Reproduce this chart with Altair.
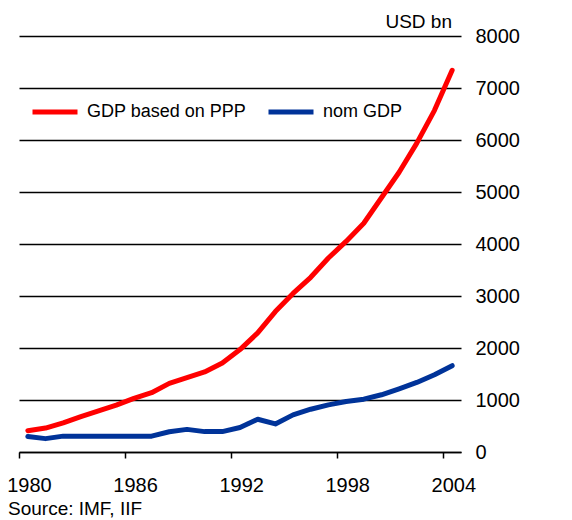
import altair as alt
import pandas as pd

years = list(range(1980, 2005))
ppp = [410, 460, 560, 680, 790, 900, 1030, 1140, 1320, 1430, 1540, 1710, 1970, 2290,
       2700, 3050, 3360, 3730, 4050, 4400, 4890, 5380, 5940, 6570, 7340]
nom = [296, 257, 305, 305, 305, 305, 305, 305, 390, 435, 392, 392, 470, 630,
       540, 714, 823, 907, 971, 1016, 1100, 1215, 1338, 1486, 1659]
series_names = ["GDP based on PPP", "nom GDP"]
series_colors = ["#FF0000", "#003399"]
x_ticks = [1980, 1986, 1992, 1998, 2004]
y_ticks = [0, 1000, 2000, 3000, 4000, 5000, 6000, 7000, 8000]
unit_label = "USD bn"
source_label = "Source: IMF, IIF"

df = pd.DataFrame({
    "year": years * 2,
    "value": ppp + nom,
    "series": [series_names[0]] * len(years) + [series_names[1]] * len(years),
})

FONT = "Liberation Sans"
W, H = 442, 416

base = alt.Chart(df).transform_calculate(xpos="datum.year + 0.5")

lines = base.mark_line(strokeWidth=5, strokeCap="round", strokeJoin="round").encode(
    x=alt.X("xpos:Q",
            scale=alt.Scale(domain=[1980, 2005], nice=False, zero=False),
            axis=alt.Axis(values=x_ticks, format="d", title=None, grid=False,
                          domainColor="black", domainWidth=1.5,
                          tickColor="black", tickWidth=1.5, tickSize=6,
                          labelOffset=10, labelPadding=17, labelFontSize=20,
                          labelColor="black", labelFont=FONT, labelFlush=False)),
    y=alt.Y("value:Q",
            scale=alt.Scale(domain=[0, 8000], nice=False),
            axis=alt.Axis(orient="right", values=y_ticks, format="d", title=None,
                          grid=True, gridColor="black", gridWidth=1.5, domain=False,
                          ticks=False, tickSize=0, labelPadding=14, labelFontSize=20,
                          labelColor="black", labelFont=FONT)),
    color=alt.Color("series:N",
                    scale=alt.Scale(domain=series_names, range=series_colors),
                    legend=alt.Legend(orient="none", legendX=11, legendY=51,
                                      direction="horizontal", title=None,
                                      symbolType="stroke", symbolSize=2025,
                                      symbolStrokeWidth=5, labelFontSize=18,
                                      labelFont=FONT, labelColor="black",
                                      labelOffset=7, columnPadding=11,
                                      labelLimit=0, padding=0)),
    order="year:Q",
)

unit = alt.Chart(pd.DataFrame({"t": [unit_label]})).mark_text(
    align="right", baseline="middle", fontSize=19, font=FONT, color="black"
).encode(text="t:N", x=alt.value(433), y=alt.value(-14))

source = alt.Chart(pd.DataFrame({"t": [source_label]})).mark_text(
    align="left", baseline="middle", fontSize=19, font=FONT, color="black"
).encode(text="t:N", x=alt.value(-11), y=alt.value(H + 57))

chart = alt.layer(lines, unit, source).properties(
    width=W, height=H,
    autosize=alt.AutoSizeParams(type="none"),
    padding={"left": 11, "top": 28, "right": 103, "bottom": 68},
).configure_view(stroke=None)

chart.save("out.html", embed_options={"renderer": "svg", "actions": False})
